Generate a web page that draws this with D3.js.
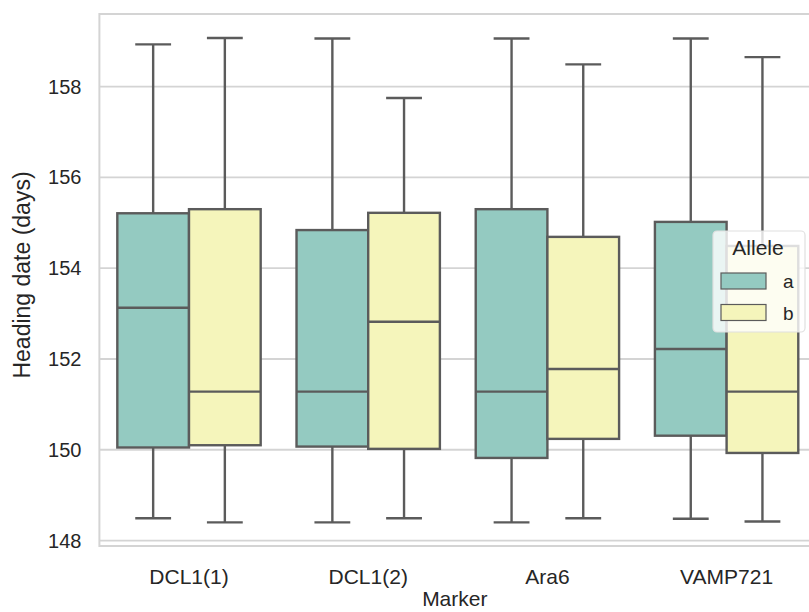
<!DOCTYPE html>
<html>
<head>
<meta charset="utf-8">
<script src="https://cdn.jsdelivr.net/npm/d3@7"></script>
<style>
  html, body { margin: 0; padding: 0; background: #fff; overflow: hidden; }
  text { font-family: "Liberation Sans", Arial, sans-serif; fill: #262626; }
</style>
</head>
<body>
<svg id="chart"></svg>
<script>
// categories and groups
var markers = ["DCL1(1)", "DCL1(2)", "Ara6", "VAMP721"];
var alleles = ["a", "b"];
var yTicks = [148, 150, 152, 154, 156, 158];

// box stats, allele a
var lowA  = [148.49, 148.40, 148.40, 148.48];
var q1A   = [150.05, 150.07, 149.82, 150.31];
var medA  = [153.13, 151.28, 151.28, 152.22];
var q3A   = [155.21, 154.84, 155.30, 155.02];
var highA = [158.93, 159.06, 159.06, 159.06];

// box stats, allele b
var lowB  = [148.40, 148.49, 148.49, 148.42];
var q1B   = [150.10, 150.02, 150.24, 149.93];
var medB  = [151.28, 152.82, 151.78, 151.28];
var q3B   = [155.30, 155.22, 154.69, 154.49];
var highB = [159.07, 157.75, 158.49, 158.65];

var colors = { a: "#94cac1", b: "#f5f5bb" };
var edge = "#5b5b5b";

var boxes = [];
markers.forEach(function (m, i) {
  boxes.push({ marker: m, allele: "a", low: lowA[i], q1: q1A[i], med: medA[i], q3: q3A[i], high: highA[i] });
  boxes.push({ marker: m, allele: "b", low: lowB[i], q1: q1B[i], med: medB[i], q3: q3B[i], high: highB[i] });
});

var W = 809, H = 612;
var margin = { top: 14, left: 99.4, bottom: 66 };
var step = 179.2;
var plotRight = margin.left + step * markers.length;
var plotBottom = H - margin.bottom;

var svg = d3.select("#chart").attr("width", W).attr("height", H);

var x = d3.scaleBand().domain(markers).range([margin.left, plotRight]).padding(0);
var xSub = d3.scaleBand().domain(alleles).range([0.1 * step, 0.9 * step]).padding(0);
var y = d3.scaleLinear().domain([147.88, 159.6]).range([plotBottom, margin.top]);

// grid
svg.append("g").selectAll("line")
  .data(yTicks).enter().append("line")
  .attr("x1", margin.left).attr("x2", plotRight)
  .attr("y1", function (d) { return y(d); })
  .attr("y2", function (d) { return y(d); })
  .attr("stroke", "#d4d4d4").attr("stroke-width", 1.8);

// frame
svg.append("rect")
  .attr("x", margin.left).attr("y", margin.top)
  .attr("width", plotRight - margin.left).attr("height", plotBottom - margin.top)
  .attr("fill", "none").attr("stroke", "#d4d4d4").attr("stroke-width", 2);

// y tick labels
svg.append("g").selectAll("text")
  .data(yTicks).enter().append("text")
  .attr("x", margin.left - 18)
  .attr("y", function (d) { return y(d); })
  .attr("dy", "0.35em")
  .attr("text-anchor", "end")
  .attr("font-size", 20)
  .text(function (d) { return d; });

// x tick labels
svg.append("g").selectAll("text")
  .data(markers).enter().append("text")
  .attr("x", function (d) { return x(d) + x.bandwidth() / 2; })
  .attr("y", plotBottom + 38)
  .attr("text-anchor", "middle")
  .attr("font-size", 21)
  .text(function (d) { return d; });

// axis titles
svg.append("text")
  .attr("x", (margin.left + plotRight) / 2 - 3)
  .attr("y", 606)
  .attr("text-anchor", "middle")
  .attr("font-size", 21)
  .text("Marker");

svg.append("text")
  .attr("transform", "translate(30," + ((margin.top + plotBottom) / 2 - 5) + ") rotate(-90)")
  .attr("text-anchor", "middle")
  .attr("font-size", 23)
  .text("Heading date (days)");

// boxes
var bw = xSub.bandwidth();
var g = svg.append("g").selectAll("g")
  .data(boxes).enter().append("g")
  .attr("transform", function (d) { return "translate(" + (x(d.marker) + xSub(d.allele)) + ",0)"; });

g.append("line")
  .attr("x1", bw / 2).attr("x2", bw / 2)
  .attr("y1", function (d) { return y(d.high); })
  .attr("y2", function (d) { return y(d.q3); })
  .attr("stroke", edge).attr("stroke-width", 2.4);

g.append("line")
  .attr("x1", bw / 2).attr("x2", bw / 2)
  .attr("y1", function (d) { return y(d.q1); })
  .attr("y2", function (d) { return y(d.low); })
  .attr("stroke", edge).attr("stroke-width", 2.4);

g.append("line")
  .attr("x1", bw / 4).attr("x2", bw * 3 / 4)
  .attr("y1", function (d) { return y(d.high); })
  .attr("y2", function (d) { return y(d.high); })
  .attr("stroke", edge).attr("stroke-width", 2.4);

g.append("line")
  .attr("x1", bw / 4).attr("x2", bw * 3 / 4)
  .attr("y1", function (d) { return y(d.low); })
  .attr("y2", function (d) { return y(d.low); })
  .attr("stroke", edge).attr("stroke-width", 2.4);

g.append("rect")
  .attr("x", 0).attr("width", bw)
  .attr("y", function (d) { return y(d.q3); })
  .attr("height", function (d) { return y(d.q1) - y(d.q3); })
  .attr("fill", function (d) { return colors[d.allele]; })
  .attr("stroke", edge).attr("stroke-width", 2.4);

g.append("line")
  .attr("x1", 0).attr("x2", bw)
  .attr("y1", function (d) { return y(d.med); })
  .attr("y2", function (d) { return y(d.med); })
  .attr("stroke", edge).attr("stroke-width", 2.4);

// legend
var leg = svg.append("g").attr("transform", "translate(713,231)");
leg.append("rect")
  .attr("width", 92).attr("height", 101).attr("rx", 4)
  .attr("fill", "#fff").attr("fill-opacity", 0.8)
  .attr("stroke", "#e0e0e0").attr("stroke-width", 1.2);
leg.append("text")
  .attr("x", 45).attr("y", 24)
  .attr("text-anchor", "middle")
  .attr("font-size", 21)
  .text("Allele");
alleles.forEach(function (a, i) {
  leg.append("rect")
    .attr("x", 8).attr("y", 42 + i * 31.5)
    .attr("width", 45).attr("height", 16)
    .attr("fill", colors[a]).attr("stroke", edge).attr("stroke-width", 1.2);
  leg.append("text")
    .attr("x", 70).attr("y", 57 + i * 31.5)
    .attr("font-size", 19)
    .text(a);
});
</script>
</body>
</html>
